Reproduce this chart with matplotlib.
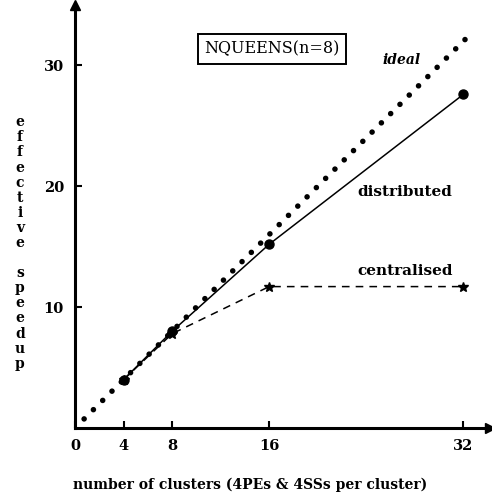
import matplotlib.pyplot as plt

# data
clusters = [4, 8, 16, 32]
distributed = [4.0, 8.0, 15.2, 27.6]
centralised = [4.0, 7.8, 11.7, 11.7]
ideal_x = [0.75, 32.4]
ideal_y = [0.75, 32.4]
xticks = [0, 4, 8, 16, 32]
yticks = [10, 20, 30]

plt.rcParams['font.family'] = 'DejaVu Serif'
plt.rcParams['font.weight'] = 'bold'

fig = plt.figure(figsize=(4.92, 4.94), dpi=100)
ax = fig.add_axes([75/492, 66/494, 415/492, 423/494])

# ideal speedup as a dotted line
ax.plot(ideal_x, ideal_y, color='k', lw=4.0, dash_capstyle='round',
        linestyle=(0, (0.01, 2.35)))
ax.plot(clusters, distributed, 'k-', lw=1.1, marker='o', ms=6.5)
ax.plot(clusters, centralised, 'k--', lw=1.1, marker='*', ms=7.5,
        dashes=(5, 4))

ax.set_xlim(0, 34.2)
ax.set_ylim(0, 35)
ax.spines['top'].set_visible(False)
ax.spines['right'].set_visible(False)
ax.spines['left'].set_linewidth(2.2)
ax.spines['bottom'].set_linewidth(2.2)
ax.plot(1, 0, '>k', ms=7, transform=ax.transAxes, clip_on=False)
ax.plot(0, 1, '^k', ms=7, transform=ax.transAxes, clip_on=False)

ax.set_xticks(xticks)
ax.set_yticks(yticks)
ax.tick_params(direction='in', length=5, width=1.5, labelsize=10.5, pad=8)

ax.set_xlabel('number of clusters (4PEs & 4SSs per cluster)',
              fontsize=10, fontweight='bold')
ax.xaxis.set_label_coords(175/415, -50/423)

fig.text(20/492, 1 - 243/494, '\n'.join('effective speedup'),
         ha='center', va='center', fontsize=10, fontweight='bold',
         linespacing=1.1)

fig.text(272/492, 1 - 49/494, 'NQUEENS(n=8)', ha='center', va='center',
         fontsize=11.5, fontweight='medium',
         bbox=dict(boxstyle='square,pad=0.4', fc='white', ec='k', lw=1.4))

fig.text(402/492, 1 - 60/494, 'ideal', ha='center', va='center',
         fontsize=10, style='italic', fontweight='bold')
fig.text(405/492, 1 - 192/494, 'distributed', ha='center', va='center',
         fontsize=11, fontweight='bold')
fig.text(405/492, 1 - 271/494, 'centralised', ha='center', va='center',
         fontsize=11, fontweight='bold')

fig.savefig('out.png', dpi=100)
